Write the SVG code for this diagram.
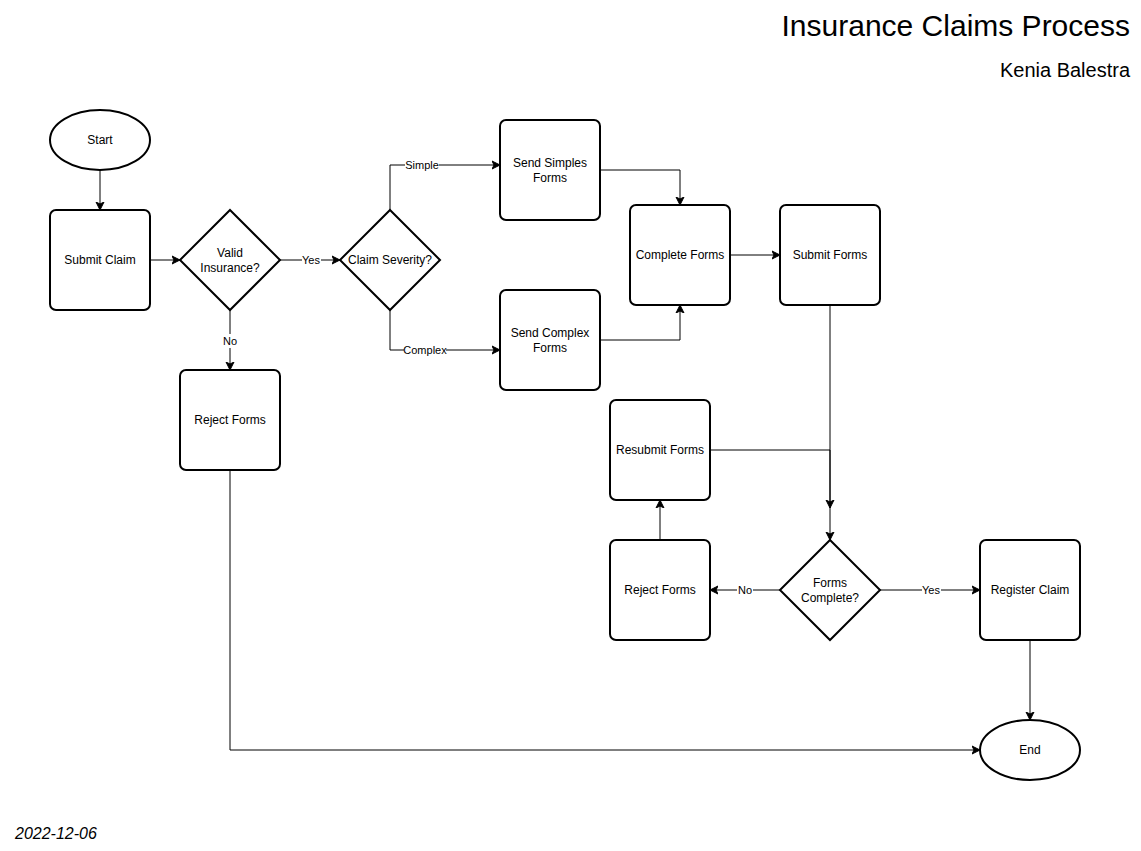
<svg xmlns="http://www.w3.org/2000/svg" width="1141" height="851" viewBox="0 0 1141 851">
<style>
.n{fill:#fff;stroke:#000;stroke-width:2}
.t{font-family:"Liberation Sans",Arial,sans-serif;font-size:12px;fill:#000;text-anchor:middle;dominant-baseline:central}
.e{fill:none;stroke:#000;stroke-width:1}
.lb{fill:#fff}
.el{font-family:"Liberation Sans",Arial,sans-serif;font-size:11px;fill:#000;text-anchor:middle;dominant-baseline:central}
.h{font-family:"Liberation Sans",Arial,sans-serif;fill:#000}
</style>
<defs>
<marker id="a" markerUnits="userSpaceOnUse" markerWidth="10" markerHeight="10" refX="8" refY="4" orient="auto" viewBox="0 0 10 8">
<path d="M0,0 L8,4 L0,8 L2,4 z" fill="#000" stroke="#000" stroke-width="1"/>
</marker>
</defs>
<rect width="1141" height="851" fill="#fff"/>
<text class="h" x="1130" y="36" font-size="30" text-anchor="end">Insurance Claims Process</text>
<text class="h" x="1130" y="77" font-size="20" text-anchor="end">Kenia Balestra</text>
<text class="h" x="15" y="839" font-size="16" font-style="italic">2022-12-06</text>

<g id="connectors">
<path class="e" d="M100,170 L100,210" marker-end="url(#a)"/>
<path class="e" d="M150,260 L180,260" marker-end="url(#a)"/>
<path class="e" d="M280,260 L340,260" marker-end="url(#a)"/>
<path class="e" d="M230,310 L230,370" marker-end="url(#a)"/>
<path class="e" d="M390,210 L390,165 L500,165" marker-end="url(#a)"/>
<path class="e" d="M390,310 L390,350 L500,350" marker-end="url(#a)"/>
<path class="e" d="M600,170 L680,170 L680,205" marker-end="url(#a)"/>
<path class="e" d="M600,340 L680,340 L680,305" marker-end="url(#a)"/>
<path class="e" d="M730,255 L780,255" marker-end="url(#a)"/>
<path class="e" d="M830,305 L830,540" marker-end="url(#a)"/>
<path class="e" d="M710,450 L830,450 L830,508" marker-end="url(#a)"/>
<path class="e" d="M780,590 L710,590" marker-end="url(#a)"/>
<path class="e" d="M880,590 L980,590" marker-end="url(#a)"/>
<path class="e" d="M660,540 L660,500" marker-end="url(#a)"/>
<path class="e" d="M1030,640 L1030,720" marker-end="url(#a)"/>
<path class="e" d="M230,470 L230,750 L980,750" marker-end="url(#a)"/>
<rect class="lb" x="302" y="253" width="19" height="14"/><text class="el" x="311" y="260">Yes</text>
<rect class="lb" x="222" y="334" width="16" height="14"/><text class="el" x="230" y="341">No</text>
<rect class="lb" x="405" y="158" width="34" height="14"/><text class="el" x="422" y="165">Simple</text>
<rect class="lb" x="404" y="343" width="42" height="14"/><text class="el" x="425" y="350">Complex</text>
<rect class="lb" x="737" y="583" width="16" height="14"/><text class="el" x="745" y="590">No</text>
<rect class="lb" x="922" y="583" width="19" height="14"/><text class="el" x="931" y="590">Yes</text>
</g>

<g id="start"><ellipse class="n" cx="100" cy="140" rx="50" ry="30"/><text class="t" x="100" y="140">Start</text></g>
<g id="submit-claim"><rect class="n" x="50" y="210" width="100" height="100" rx="6"/><text class="t" x="100" y="260">Submit Claim</text></g>
<g id="valid-insurance"><path class="n" d="M230,210 L280,260 L230,310 L180,260 z"/><text class="t" x="230" y="253">Valid</text><text class="t" x="230" y="268">Insurance?</text></g>
<g id="claim-severity"><path class="n" d="M390,210 L440,260 L390,310 L340,260 z"/><text class="t" x="390" y="260">Claim Severity?</text></g>
<g id="reject-forms-1"><rect class="n" x="180" y="370" width="100" height="100" rx="6"/><text class="t" x="230" y="420">Reject Forms</text></g>
<g id="send-simples"><rect class="n" x="500" y="120" width="100" height="100" rx="6"/><text class="t" x="550" y="163">Send Simples</text><text class="t" x="550" y="178">Forms</text></g>
<g id="send-complex"><rect class="n" x="500" y="290" width="100" height="100" rx="6"/><text class="t" x="550" y="333">Send Complex</text><text class="t" x="550" y="348">Forms</text></g>
<g id="complete-forms"><rect class="n" x="630" y="205" width="100" height="100" rx="6"/><text class="t" x="680" y="255">Complete Forms</text></g>
<g id="submit-forms"><rect class="n" x="780" y="205" width="100" height="100" rx="6"/><text class="t" x="830" y="255">Submit Forms</text></g>
<g id="resubmit-forms"><rect class="n" x="610" y="400" width="100" height="100" rx="6"/><text class="t" x="660" y="450">Resubmit Forms</text></g>
<g id="reject-forms-2"><rect class="n" x="610" y="540" width="100" height="100" rx="6"/><text class="t" x="660" y="590">Reject Forms</text></g>
<g id="forms-complete"><path class="n" d="M830,540 L880,590 L830,640 L780,590 z"/><text class="t" x="830" y="583">Forms</text><text class="t" x="830" y="598">Complete?</text></g>
<g id="register-claim"><rect class="n" x="980" y="540" width="100" height="100" rx="6"/><text class="t" x="1030" y="590">Register Claim</text></g>
<g id="end"><ellipse class="n" cx="1030" cy="750" rx="50" ry="30"/><text class="t" x="1030" y="750">End</text></g>
</svg>
